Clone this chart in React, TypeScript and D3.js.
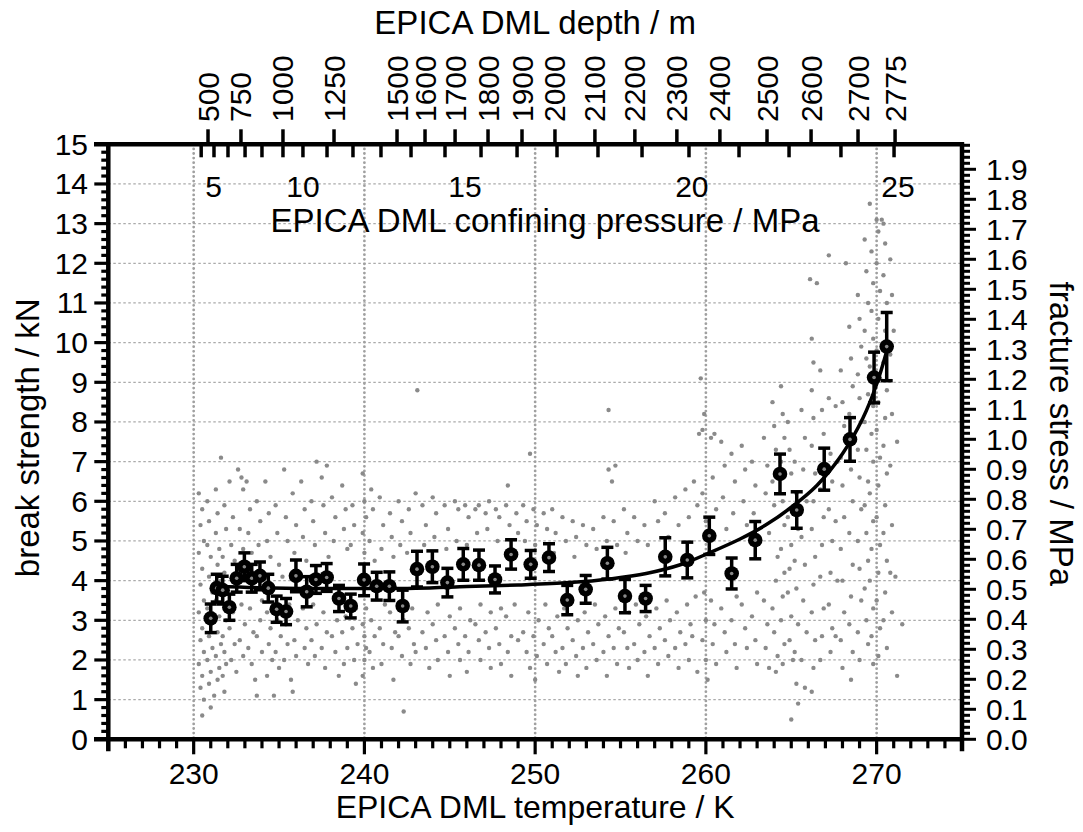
import React from "react";
import * as d3 from "d3";

// binned means of break strength (temperature K, kN, error kN)
const meanT = [231.0, 231.35, 231.7, 232.09, 232.52, 232.97, 233.4, 233.88, 234.37, 234.86, 235.41, 235.99, 236.62, 237.16, 237.79, 238.51, 239.2, 239.98, 240.72, 241.46, 242.24, 243.08, 243.98, 244.86, 245.79, 246.71, 247.65, 248.59, 249.74, 250.81, 251.88, 252.96, 254.23, 255.26, 256.47, 257.62, 258.91, 260.2, 261.51, 262.89, 264.34, 265.32, 266.93, 268.44, 269.85, 270.59];
const meanKN = [3.05, 3.81, 3.76, 3.33, 4.06, 4.35, 4.06, 4.12, 3.81, 3.28, 3.22, 4.12, 3.72, 4.03, 4.08, 3.55, 3.36, 4.02, 3.86, 3.86, 3.36, 4.29, 4.35, 3.95, 4.41, 4.39, 4.03, 4.66, 4.41, 4.58, 3.51, 3.78, 4.44, 3.61, 3.55, 4.6, 4.52, 5.13, 4.18, 5.02, 6.69, 5.78, 6.81, 7.56, 9.12, 9.9];
const meanErr = [0.36, 0.35, 0.35, 0.33, 0.35, 0.35, 0.35, 0.35, 0.35, 0.33, 0.33, 0.4, 0.38, 0.35, 0.35, 0.33, 0.3, 0.4, 0.35, 0.36, 0.4, 0.45, 0.4, 0.36, 0.4, 0.38, 0.34, 0.37, 0.35, 0.35, 0.37, 0.35, 0.4, 0.42, 0.33, 0.48, 0.45, 0.47, 0.39, 0.47, 0.5, 0.46, 0.53, 0.55, 0.64, 0.86];

// fitted curve
const fitT = [231.4, 234, 237, 240, 243, 246, 249, 252, 254.5, 256.5, 258.5, 260.2, 262, 263.5, 265, 266.5, 268, 269.2, 270.0, 270.6];
const fitKN = [3.86, 3.82, 3.8, 3.8, 3.81, 3.85, 3.89, 3.95, 4.05, 4.18, 4.4, 4.7, 5.05, 5.4, 5.85, 6.4, 7.2, 8.1, 8.95, 9.8];

// top axis: depth ticks and where they sit on the temperature axis
const depthTicks = [500, 750, 1000, 1250, 1500, 1600, 1700, 1800, 1900, 2000, 2100, 2200, 2300, 2400, 2500, 2600, 2700, 2775];
const depthTickT = [230.84, 232.77, 235.23, 238.22, 241.91, 243.55, 245.31, 247.24, 249.23, 251.16, 253.5, 255.84, 258.3, 260.82, 263.58, 266.16, 268.91, 271.08];
// pressure ticks 4..25 MPa
const pressureTickT = [230.44, 231.19, 232.01, 233.01, 234.0, 235.23, 236.4, 237.81, 239.33, 240.97, 242.73, 244.72, 246.83, 248.94, 251.28, 253.68, 256.26, 259.01, 261.94, 264.87, 267.91, 271.02];
const pressureLabels = ["5", "10", "15", "20", "25"];
const pressureLabelT = [231.16, 236.4, 245.89, 259.18, 271.25];

// individual measurements (K, kN)
const scatter: [number, number][] = [
  [230.3,6.2],[230.5,5.8],[230.4,5.4],[230.6,5.0],[230.3,4.7],[230.5,4.3],[230.4,3.9],[230.6,3.5],[230.3,3.2],[230.5,2.8],[230.4,2.5],[230.6,2.2],[230.3,1.9],[230.5,1.6],[230.4,1.3],[230.6,1.0],[230.5,0.6],[230.8,6.0],[230.9,5.5],[230.8,4.9],[231.0,4.6],[230.9,4.1],[231.1,3.7],[230.8,3.3],[231.0,2.9],[230.9,2.6],[231.1,2.3],[230.8,2.0],[231.0,1.7],[230.9,1.4],[231.2,1.1],[231.0,0.8],[231.3,6.3],[231.4,5.7],[231.3,5.2],[231.5,4.8],[231.4,4.4],[231.6,4.0],[231.3,3.5],[231.5,3.1],[231.4,2.7],[231.6,2.4],[231.3,2.1],[231.5,1.8],[231.4,1.5],[231.6,7.1],[231.8,5.9],[231.9,5.3],[231.7,4.6],[231.8,4.2],[231.9,3.0],[231.7,2.6],[231.8,2.2],[231.9,1.9],[231.7,1.6],[231.8,1.2],
  [232.1,6.5],[232.3,5.6],[232.2,4.9],[232.4,4.5],[232.3,3.2],[232.1,2.8],[232.4,2.4],[232.2,2.0],[232.5,1.7],[232.6,6.8],[232.8,6.6],[232.9,6.3],[232.7,5.3],[232.9,4.8],[232.8,3.4],[233.0,2.9],[232.7,2.5],[232.9,2.1],[233.1,6.5],[233.3,5.8],[233.2,5.2],[233.4,4.7],[233.3,3.3],[233.5,2.7],[233.2,2.3],[233.4,1.9],[233.6,1.5],[233.7,1.1],[233.7,6.0],[233.9,5.5],[233.8,4.9],[234.0,3.5],[233.9,3.0],[233.7,2.6],[234.0,2.2],[234.2,6.5],[234.4,5.7],[234.3,5.0],[234.5,4.6],[234.3,3.2],[234.5,2.8],[234.4,2.4],[234.6,2.0],[234.3,1.6],[234.7,1.1],[234.8,5.9],[234.9,5.2],[235.0,4.4],[234.9,3.0],[235.1,2.6],[234.8,2.2],[235.0,1.8],[235.3,6.8],[235.4,5.6],[235.5,5.0],[235.2,4.1],[235.6,3.4],[235.4,2.9],[235.5,2.4],[235.3,2.0],[235.7,1.5],[235.8,6.2],[236.0,5.4],[235.9,4.7],[236.1,3.0],[235.9,2.5],[236.0,2.1],[235.8,1.2],
  [236.3,6.5],[236.5,5.8],[236.4,5.1],[236.6,4.5],[236.4,3.3],[236.6,2.8],[236.5,2.3],[236.7,1.9],[236.9,6.0],[237.0,5.5],[237.2,7.0],[237.1,4.9],[237.0,3.4],[237.2,2.9],[236.9,2.5],[237.1,2.1],[237.5,6.6],[237.8,6.9],[237.6,5.9],[237.7,5.2],[237.9,4.6],[237.6,3.2],[237.8,2.7],[237.5,2.3],[237.7,1.8],[238.1,6.1],[238.3,5.6],[238.2,5.0],[238.4,3.0],[238.1,2.6],[238.3,2.2],[238.5,1.6],[238.7,6.4],[238.9,5.8],[238.8,5.3],[239.0,4.8],[238.9,3.1],[238.7,2.7],[239.0,2.3],[238.8,1.9],[239.3,5.9],[239.4,5.4],[239.2,4.9],[239.5,3.3],[239.3,2.8],[239.6,2.4],[239.4,2.0],[239.5,1.4],
  [239.9,6.7],[240.0,6.0],[240.1,5.6],[239.9,5.2],[240.0,4.7],[240.1,3.3],[239.9,2.9],[240.0,2.6],[240.1,2.3],[240.0,2.0],[239.9,1.6],[240.4,6.3],[240.5,5.8],[240.3,5.0],[240.6,4.5],[240.4,3.0],[240.6,2.6],[240.3,2.2],[240.5,1.8],[240.9,6.1],[241.1,5.4],[241.0,4.8],[241.2,3.4],[240.9,2.8],[241.1,2.4],[241.0,1.9],[241.5,5.7],[241.6,5.1],[241.7,4.6],[241.5,3.2],[241.8,2.7],[241.6,2.3],[241.7,1.5],[242.0,6.0],[242.2,5.5],[242.1,4.9],[242.3,3.0],[242.0,2.6],[242.2,2.1],[242.3,0.7],[242.6,5.8],[242.7,5.2],[242.5,4.7],[242.8,3.3],[242.6,2.8],[242.9,2.4],[242.7,1.9],[243.1,8.8],[243.0,6.2],[243.1,4.4],[243.0,2.2],
  [243.4,5.9],[243.6,5.4],[243.5,4.9],[243.7,3.2],[243.4,2.7],[243.6,2.3],[243.8,1.8],[244.0,6.1],[244.2,5.7],[244.1,5.1],[244.3,3.4],[244.0,2.9],[244.2,2.5],[244.3,2.0],[244.7,5.9],[244.9,5.3],[244.8,4.8],[245.0,3.1],[244.7,2.6],[244.9,2.2],[245.0,1.6],[245.3,6.0],[245.5,5.8],[245.4,5.0],[245.6,3.3],[245.3,2.8],[245.5,2.4],[245.6,2.0],[245.9,5.9],[246.1,5.6],[246.0,4.9],[246.2,3.0],[245.9,2.6],[246.1,2.2],[246.0,1.7],[246.5,5.8],[246.7,5.9],[246.6,5.2],[246.8,3.4],[246.5,2.9],[246.7,2.5],[246.8,2.0],[247.1,5.7],[247.3,6.0],[247.2,5.3],[247.4,3.2],[247.1,2.7],[247.3,2.3],[247.4,1.8],[247.7,5.8],[247.9,5.6],[247.8,5.0],[248.0,3.3],[247.7,2.8],[247.9,2.4],[248.0,1.9],[248.3,5.9],[248.4,6.4],[248.5,5.4],[248.3,3.1],[248.6,2.6],[248.4,2.2],[248.6,1.6],[248.9,5.7],[249.0,5.2],[248.8,3.4],[249.0,2.5],
  [249.3,5.9],[249.5,5.5],[249.4,5.0],[249.6,3.2],[249.3,2.7],[249.5,2.2],[249.7,7.2],[249.7,1.8],[249.9,5.8],[250.1,5.4],[250.0,4.9],[250.2,3.0],[249.9,2.6],[250.1,2.1],[250.0,1.5],[250.5,5.7],[250.7,5.3],[250.6,3.4],[250.8,2.8],[250.5,2.4],[250.7,1.9],[251.0,5.8],[251.2,5.2],[251.1,4.7],[251.3,3.1],[251.0,2.6],[251.2,2.2],[251.4,1.7],[251.6,5.6],[251.8,5.0],[251.7,3.3],[251.9,2.8],[251.6,2.3],[251.8,1.9],[252.2,5.5],[252.4,5.1],[252.3,4.6],[252.5,3.0],[252.2,2.5],[252.4,2.1],[252.5,1.6],[252.8,5.4],[253.0,4.9],[252.9,3.2],[253.1,2.7],[252.8,2.3],[253.0,1.8],[253.4,5.3],[253.6,4.8],[253.5,3.4],[253.7,2.9],[253.4,2.4],[253.6,2.0],[254.0,5.6],[254.2,5.0],[254.3,8.3],[254.3,6.8],[254.7,6.9],[254.5,6.5],[254.1,3.1],[254.3,2.6],[254.0,2.2],[254.2,1.6],[254.6,5.5],[254.8,4.9],[254.7,3.3],[254.9,2.8],[254.6,2.3],[254.8,1.9],
  [255.2,5.8],[255.4,5.2],[255.3,4.7],[255.5,3.2],[255.2,2.7],[255.4,2.3],[255.5,1.8],[255.8,5.6],[256.0,5.0],[255.9,3.4],[256.1,2.9],[255.8,2.4],[256.0,2.0],[256.4,5.4],[256.6,4.9],[256.5,3.1],[256.7,2.6],[256.4,2.2],[256.6,1.6],[257.0,6.0],[257.2,5.5],[257.1,3.3],[257.3,2.8],[257.0,2.3],[257.2,1.9],[257.6,5.7],[257.8,5.1],[257.7,3.5],[257.9,3.0],[257.6,2.5],[257.8,2.1],[258.2,6.1],[258.4,5.4],[258.3,3.2],[258.5,2.7],[258.2,2.3],[258.4,1.8],[258.8,6.3],[259.0,5.6],[258.9,3.4],[259.1,2.9],[258.8,2.4],[259.0,2.0],[259.3,6.5],[259.5,5.9],[259.4,3.6],[259.2,2.6],[259.5,1.7],
  [259.6,7.7],[259.8,7.8],[259.7,9.1],[259.9,8.2],[259.8,6.2],[260.0,5.5],[259.9,3.7],[260.0,3.0],[259.8,2.5],[260.0,2.0],[260.1,1.5],[260.3,7.6],[260.5,7.7],[260.4,6.6],[260.6,5.8],[260.3,3.5],[260.5,2.9],[260.4,2.4],[260.6,1.9],[260.9,7.5],[261.1,6.9],[261.0,6.1],[261.2,5.3],[260.9,3.3],[261.1,2.7],[261.2,2.2],[261.5,7.2],[261.7,6.5],[261.6,5.7],[261.8,3.6],[261.5,3.0],[261.7,2.4],[261.8,1.8],[262.1,7.4],[262.3,6.8],[262.2,6.0],[262.4,5.4],[262.1,3.4],[262.3,2.8],[262.4,2.3],[262.7,7.0],[262.9,6.4],[262.8,5.7],[263.0,3.7],[262.7,3.1],[262.9,2.5],[263.0,1.9],
  [263.4,7.6],[263.6,6.9],[263.5,6.2],[263.7,5.2],[263.4,3.5],[263.6,2.9],[263.5,2.3],[263.7,1.8],[263.9,8.5],[264.0,7.9],[264.1,7.3],[263.9,6.5],[264.0,5.9],[264.2,4.6],[264.1,4.0],[263.9,3.3],[264.0,2.7],[264.2,2.1],[264.1,1.7],[264.4,8.9],[264.5,8.2],[264.6,7.6],[264.4,7.0],[264.5,6.0],[264.6,5.4],[264.4,4.8],[264.6,4.2],[264.5,3.6],[264.4,3.0],[264.6,2.4],[264.5,1.9],[264.8,8.0],[264.9,7.3],[265.0,6.7],[264.8,5.6],[265.0,4.9],[264.9,4.3],[264.8,3.7],[265.0,3.1],[264.9,2.5],[265.1,2.0],[265.2,7.0],[265.3,6.2],[265.4,5.3],[265.2,4.5],[265.3,3.8],[265.4,2.9],[265.2,2.2],[265.3,1.4],[265.4,0.9],[265.0,0.5],
  [265.6,8.3],[265.8,7.6],[265.7,6.8],[265.9,6.0],[265.6,5.1],[265.8,4.4],[265.7,3.5],[265.9,2.7],[265.6,2.0],[265.8,1.3],[266.1,11.6],[266.5,11.5],[266.2,10.1],[266.3,9.5],[266.2,8.8],[266.3,8.1],[266.2,7.4],[266.4,6.7],[266.3,6.0],[266.2,5.3],[266.4,4.6],[266.3,3.9],[266.2,3.2],[266.4,2.5],[266.3,1.8],[266.2,1.2],[266.7,9.3],[266.8,8.3],[266.9,7.7],[266.7,6.3],[266.9,5.6],[266.8,4.9],[266.7,4.1],[266.9,3.3],[266.8,2.6],[266.7,2.0],[267.2,12.2],[267.2,8.6],[267.3,7.2],[267.4,6.5],[267.2,5.8],[267.4,5.0],[267.3,4.2],[267.2,3.4],[267.4,2.8],[267.3,2.2],[267.6,8.4],[267.7,7.0],[267.6,5.5],[267.7,4.0],[267.6,2.6],[268.2,12.0],
  [267.9,9.3],[268.0,8.5],[268.1,7.9],[267.9,7.1],[268.0,6.4],[268.1,5.6],[267.9,4.8],[268.0,4.0],[268.1,3.2],[267.9,2.5],[268.0,1.8],[268.4,10.4],[268.5,9.6],[268.6,8.9],[268.4,8.2],[268.5,6.8],[268.6,6.0],[268.4,5.2],[268.6,4.4],[268.5,3.6],[268.4,2.9],[268.6,2.2],[268.5,1.5],[268.9,11.2],[269.0,10.6],[269.1,9.9],[268.9,9.2],[269.0,8.6],[269.1,8.0],[268.9,7.3],[269.0,6.6],[269.1,5.8],[268.9,5.0],[269.0,4.3],[269.1,3.5],[268.9,2.7],[269.0,2.0],[269.3,12.6],[269.4,11.8],[269.5,11.0],[269.3,10.3],[269.4,9.6],[269.5,8.7],[269.3,8.0],[269.4,7.3],[269.5,6.5],[269.3,5.9],[269.4,5.2],[269.5,4.5],[269.3,3.8],[269.4,3.0],[269.5,2.4],[269.6,13.5],[269.7,12.3],[269.8,11.5],[269.7,10.8],[269.8,10.1],[269.6,9.4],[269.8,8.4],[269.7,7.7],[269.8,7.0],[269.6,6.2],[269.8,5.5],[269.7,4.8],[269.6,4.0],[269.8,3.3],[269.7,2.6],[269.8,1.9],[270.0,13.1],[270.1,12.8],[270.0,12.0],[270.2,11.3],[270.1,10.6],[270.0,9.8],[270.2,9.1],[270.1,8.5],[270.0,7.8],[270.2,7.1],[270.1,6.4],[270.0,5.6],[270.2,4.9],[270.1,4.2],[270.0,3.5],[270.2,2.8],[270.1,2.1],[270.3,13.1],[270.4,13.0],[270.5,12.5],[270.4,11.7],[270.6,11.0],[270.5,10.3],[270.4,9.5],[270.6,8.8],[270.5,8.1],[270.4,7.4],[270.6,6.7],[270.5,5.9],[270.4,5.2],[270.6,4.5],[270.5,3.7],[270.4,3.0],[270.6,2.3],[270.8,12.1],[270.9,11.2],[270.8,9.7],[270.9,8.2],[270.8,6.9],[270.9,5.4],[270.8,4.2],[270.9,3.2],[271.0,10.3],[271.2,7.5],[271.1,4.1],[271.5,2.9],[271.2,1.6],
];

const W = 1083;
const H = 832;
const left = 108.3, right = 962, top = 144.3, bottom = 739.3;
const font = "'Liberation Sans', Arial, Helvetica, sans-serif";

const x = d3.scaleLinear().domain([225, 275]).range([left, right]);
const y = d3.scaleLinear().domain([0, 15]).range([bottom, top]);
const yR = d3.scaleLinear().domain([0, 15 * 0.13222]).range([bottom, top]);

const App = () => {
    const fitLine = d3.line<number>()
        .x((d, i) => x(fitT[i]))
        .y((d) => y(d))
        .curve(d3.curveCatmullRom);

    const leftTicks = d3.range(0, 76);   // 0.2 kN steps
    const rightTicks = d3.range(0, 100); // 0.02 MPa steps
    const bottomTicks = d3.range(225, 276);

    return (
        <div style={{position: "absolute", left: 0, top: 0}}>
            <svg width={W} height={H} style={{display: "block", background: "#fff"}} fontFamily={font}>
                {/* grid */}
                {d3.range(1, 15).map(v =>
                    <line key={"h" + v} x1={left} x2={right} y1={y(v)} y2={y(v)}
                          stroke="#aaa" strokeWidth={1.2} strokeDasharray="2.5 2.5"/>
                )}
                {[230, 240, 250, 260, 270].map(v =>
                    <line key={"v" + v} x1={x(v)} x2={x(v)} y1={top} y2={bottom}
                          stroke="#a0a0a0" strokeWidth={2.8} strokeDasharray="0 4.6" strokeLinecap="round"/>
                )}

                {/* raw measurements */}
                {scatter.map((d, i) =>
                    <circle key={"s" + i} cx={x(d[0])} cy={y(d[1])} r={2.2} fill="#8a8a8a"/>
                )}

                {/* fit */}
                <path d={fitLine(fitKN) || ""} fill="none" stroke="#000" strokeWidth={3.5}/>

                {/* means with error bars */}
                {meanT.map((t, i) => {
                    const cx = x(t);
                    const y1 = y(meanKN[i] + meanErr[i]);
                    const y2 = y(meanKN[i] - meanErr[i]);
                    return (
                        <g key={"m" + i}>
                            <line x1={cx} x2={cx} y1={y1} y2={y2} stroke="#000" strokeWidth={3.5}/>
                            <line x1={cx - 6} x2={cx + 6} y1={y1} y2={y1} stroke="#000" strokeWidth={3.5}/>
                            <line x1={cx - 6} x2={cx + 6} y1={y2} y2={y2} stroke="#000" strokeWidth={3.5}/>
                            <circle cx={cx} cy={y(meanKN[i])} r={7.3} fill="#000"/>
                            <circle cx={cx} cy={y(meanKN[i])} r={1.8} fill="#8a8a8a"/>
                        </g>
                    );
                })}

                {/* frame */}
                <line x1={94} x2={right + 2} y1={top} y2={top} stroke="#000" strokeWidth={4.5}/>
                <line x1={94} x2={right + 2} y1={bottom} y2={bottom} stroke="#000" strokeWidth={4.5}/>
                <line x1={left} x2={left} y1={top - 2} y2={bottom + 12} stroke="#000" strokeWidth={4.5}/>
                <line x1={right} x2={right} y1={top - 2} y2={bottom + 12} stroke="#000" strokeWidth={4.5}/>

                {/* left axis */}
                {leftTicks.map(i => {
                    const major = i % 5 === 0;
                    return <line key={"lt" + i} x1={left - (major ? 14 : 7)} x2={left} y1={y(i * 0.2)} y2={y(i * 0.2)}
                                 stroke="#000" strokeWidth={3.2}/>;
                })}
                {d3.range(0, 16).map(v =>
                    <text key={"ll" + v} x={88} y={y(v)} dy="0.35em" textAnchor="end" fontSize={30}>{v}</text>
                )}
                <text transform={`translate(27,${(top + bottom) / 2 - 4}) rotate(-90)`} dy="0.35em"
                      textAnchor="middle" fontSize={33}>break strength / kN</text>

                {/* right axis */}
                {rightTicks.map(i => {
                    const major = i % 5 === 0;
                    return <line key={"rt" + i} x1={right} x2={right + (major ? 14 : 8)} y1={yR(i * 0.02)} y2={yR(i * 0.02)}
                                 stroke="#000" strokeWidth={3}/>;
                })}
                {d3.range(0, 20).map(i =>
                    <text key={"rl" + i} x={986} y={yR(i / 10)} dy="0.35em" fontSize={30}>{(i / 10).toFixed(1)}</text>
                )}
                <text transform={`translate(1062,${(top + bottom) / 2 - 8}) rotate(90)`} dy="0.35em"
                      textAnchor="middle" fontSize={33}>fracture stress / MPa</text>

                {/* bottom axis */}
                {bottomTicks.map(v => {
                    const major = v % 10 === 0 && v > 225 && v < 275;
                    return <line key={"bt" + v} x1={x(v)} x2={x(v)} y1={bottom} y2={bottom + (major ? 15 : 9)}
                                 stroke="#000" strokeWidth={3.2}/>;
                })}
                {[230, 240, 250, 260, 270].map(v =>
                    <text key={"bl" + v} x={x(v)} y={784} textAnchor="middle" fontSize={30}>{v}</text>
                )}
                <text x={(left + right) / 2} y={818} textAnchor="middle" fontSize={32}>EPICA DML temperature / K</text>

                {/* top axis: depth */}
                {depthTickT.map((t, i) =>
                    <line key={"dt" + i} x1={x(t)} x2={x(t)} y1={top} y2={top - 15} stroke="#000" strokeWidth={3.5}/>
                )}
                {depthTickT.map((t, i) =>
                    <text key={"dl" + i} transform={`translate(${x(t)},122) rotate(-90)`} dy="0.35em"
                          fontSize={30}>{depthTicks[i]}</text>
                )}
                <text x={(left + right) / 2} y={34} textAnchor="middle" fontSize={33}>EPICA DML depth / m</text>

                {/* top axis: confining pressure */}
                {pressureTickT.map((t, i) =>
                    <line key={"pt" + i} x1={x(t)} x2={x(t)} y1={top} y2={top + 13} stroke="#000" strokeWidth={3.5}/>
                )}
                {pressureLabelT.map((t, i) =>
                    <text key={"pl" + i} x={x(t)} y={197} textAnchor="middle" fontSize={30}>{pressureLabels[i]}</text>
                )}
                <text x={545} y={232} textAnchor="middle" fontSize={33}>EPICA DML confining pressure / MPa</text>
            </svg>
        </div>
    );
};

export default App;
